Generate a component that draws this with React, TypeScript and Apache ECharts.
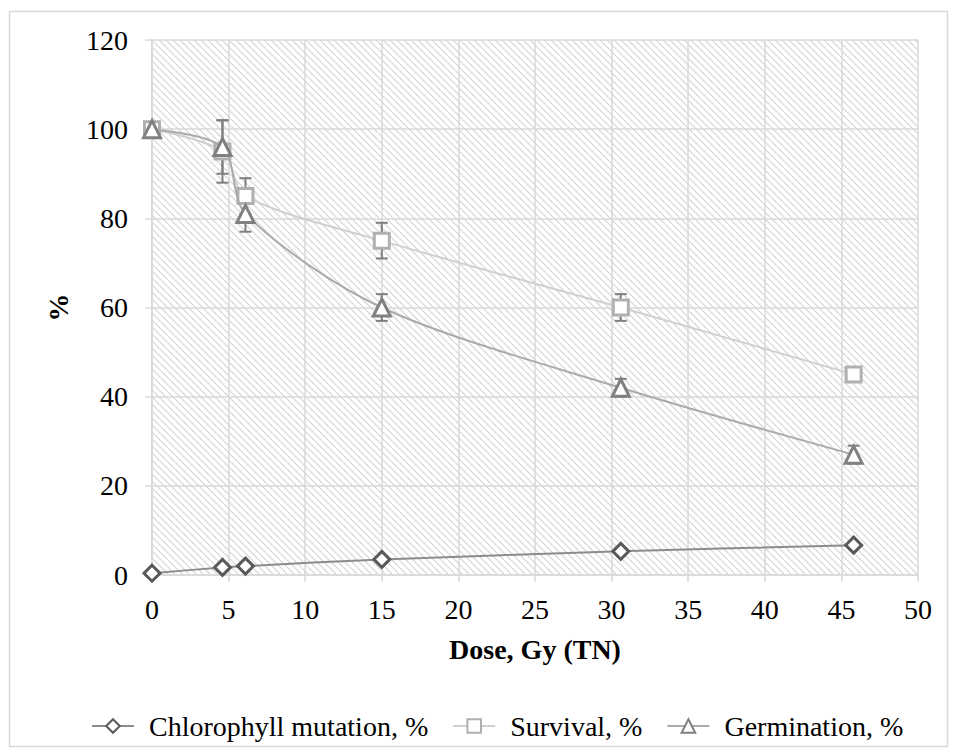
import React, { useEffect, useRef } from "react";
import * as echarts from "echarts";

// ---- data ----
const doses = [0, 4.6, 6.1, 15, 30.6, 45.8];
const chlorophyll = [0.4, 1.7, 2.0, 3.5, 5.3, 6.7];
const survival = [100, 95, 85, 75, 60, 45];
const survivalErr = [0, 7, 4, 4, 3, 1];
const germination = [100, 96, 81, 60, 42, 27];
const germinationErr = [0, 6, 4, 3, 2, 2];
const seriesNames = ["Chlorophyll mutation, %", "Survival, %", "Germination, %"];
const xAxisTitle = "Dose, Gy (TN)";
const yAxisTitle = "%";

const FONT = "Liberation Serif, Times New Roman, serif";

function makeHatch(): HTMLCanvasElement {
  const s = 7;
  const c = document.createElement("canvas");
  c.width = s;
  c.height = s;
  const ctx = c.getContext("2d")!;
  ctx.fillStyle = "#ffffff";
  ctx.fillRect(0, 0, s, s);
  ctx.strokeStyle = "#d2d2d2";
  ctx.lineWidth = 1.1;
  for (const o of [-s, 0, s]) {
    ctx.beginPath();
    ctx.moveTo(o, 0);
    ctx.lineTo(o + s, s);
    ctx.stroke();
  }
  return c;
}

function errData(vals: number[], errs: number[]) {
  return doses
    .map((d, i) => [d, vals[i] - errs[i], vals[i] + errs[i], errs[i]])
    .filter((r) => r[3] > 0);
}

function errSeries(vals: number[], errs: number[]) {
  return {
    type: "custom",
    silent: true,
    z: 1,
    data: errData(vals, errs),
    encode: { x: 0, y: [1, 2] },
    renderItem: (_p: any, api: any) => {
      const x = api.value(0);
      const lo = api.value(1);
      const hi = api.value(2);
      const a = api.coord([x, hi]);
      const b = api.coord([x, lo]);
      const w = 6;
      const style = { stroke: "#7f7f7f", lineWidth: 2 };
      return {
        type: "group",
        children: [
          { type: "line", shape: { x1: a[0], y1: a[1], x2: b[0], y2: b[1] }, style },
          { type: "line", shape: { x1: a[0] - w, y1: a[1], x2: a[0] + w, y2: a[1] }, style },
          { type: "line", shape: { x1: b[0] - w, y1: b[1], x2: b[0] + w, y2: b[1] }, style },
        ],
      };
    },
  };
}

export default function App() {
  const ref = useRef<HTMLDivElement>(null);
  useEffect(() => {
    if (!ref.current) return;
    const chart = echarts.init(ref.current, null, { renderer: "svg" });
    const gridColor = "#d9d9d9";
    const option: any = {
      animation: false,
      backgroundColor: "#ffffff",
      textStyle: { fontFamily: FONT },
      graphic: [
        {
          type: "rect",
          shape: { x: 9.5, y: 11.5, width: 938, height: 735 },
          style: { fill: "none", stroke: gridColor, lineWidth: 1.5 },
          silent: true,
        },
      ],
      grid: {
        left: 152,
        right: 39,
        top: 40,
        bottom: 181,
        show: true,
        borderWidth: 0,
        backgroundColor: { image: makeHatch(), repeat: "repeat" },
      },
      legend: {
        left: 86,
        top: 707,
        itemWidth: 42,
        itemHeight: 17,
        itemGap: 24,
        data: seriesNames,
        textStyle: { fontFamily: FONT, fontSize: 28, color: "#000", padding: [0, 0, 0, 10] },
      },
      xAxis: {
        type: "value",
        min: 0,
        max: 50,
        interval: 5,
        name: xAxisTitle,
        nameLocation: "middle",
        nameGap: 60,
        nameTextStyle: { fontFamily: FONT, fontSize: 28, fontWeight: "bold", color: "#000" },
        axisLine: { show: true, lineStyle: { color: gridColor, width: 1.5 } },
        axisTick: { show: true, length: 7, lineStyle: { color: gridColor, width: 1.5 } },
        axisLabel: { fontFamily: FONT, fontSize: 28, color: "#000", margin: 20 },
        splitLine: { show: true, lineStyle: { color: gridColor, width: 1.5 } },
      },
      yAxis: {
        type: "value",
        min: 0,
        max: 120,
        interval: 20,
        name: yAxisTitle,
        nameLocation: "middle",
        nameGap: 80,
        nameRotate: 90,
        nameTextStyle: { fontFamily: FONT, fontSize: 28, fontWeight: "bold", color: "#000" },
        axisLine: { show: true, lineStyle: { color: gridColor, width: 1.5 } },
        axisTick: { show: true, length: 7, lineStyle: { color: gridColor, width: 1.5 } },
        axisLabel: { fontFamily: FONT, fontSize: 28, color: "#000", margin: 24 },
        splitLine: { show: true, lineStyle: { color: gridColor, width: 1.5 } },
      },
      series: [
        errSeries(survival, survivalErr),
        errSeries(germination, germinationErr),
        {
          name: seriesNames[0],
          type: "line",
          smooth: 0.3,
          z: 3,
          data: doses.map((d, i) => [d, chlorophyll[i]]),
          symbol: "diamond",
          symbolSize: 16,
          lineStyle: { color: "#8c8c8c", width: 2 },
          itemStyle: { color: "#ffffff", borderColor: "#595959", borderWidth: 3 },
        },
        {
          name: seriesNames[1],
          type: "line",
          smooth: 0.3,
          z: 4,
          data: doses.map((d, i) => [d, survival[i]]),
          symbol: "rect",
          symbolSize: 15,
          lineStyle: { color: "#d0d0d0", width: 2 },
          itemStyle: { color: "#ffffff", borderColor: "#b0b0b0", borderWidth: 3 },
        },
        {
          name: seriesNames[2],
          type: "line",
          smooth: 0.3,
          z: 5,
          data: doses.map((d, i) => [d, germination[i]]),
          symbol: "triangle",
          symbolSize: 17,
          lineStyle: { color: "#ababab", width: 2 },
          itemStyle: { color: "#ffffff", borderColor: "#808080", borderWidth: 3 },
        },
      ],
    };
    chart.setOption(option);
    return () => chart.dispose();
  }, []);
  return (
    <div
      ref={ref}
      style={{ position: "fixed", left: 0, top: 0, width: 957, height: 756 }}
    />
  );
}
